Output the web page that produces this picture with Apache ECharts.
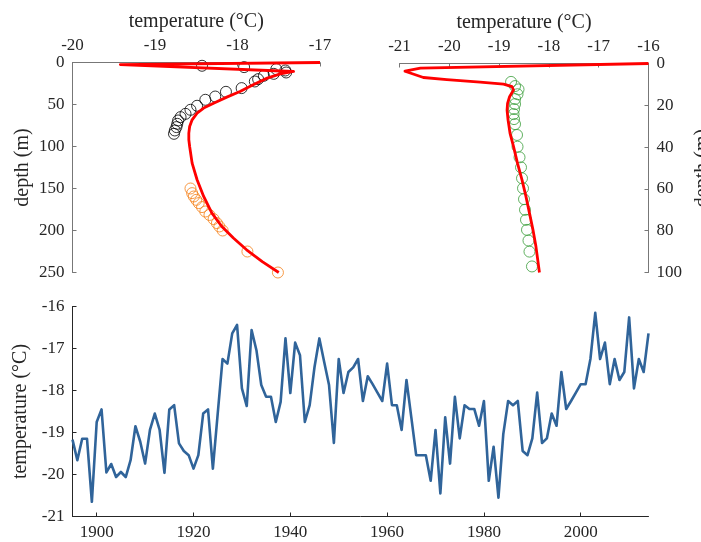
<!DOCTYPE html>
<html>
<head>
<meta charset="utf-8">
<script src="https://cdn.jsdelivr.net/npm/echarts@6/dist/echarts.min.js"></script>
<style>
  html, body { margin: 0; padding: 0; background: #fff; }
  #chart { width: 701px; height: 542px; }
</style>
</head>
<body>
<div id="chart"></div>
<script>
// ---- Borehole 1: modelled profile and measurements (temperature °C, depth m) ----
const deepModelTemp  = [-17.0, -19.42, -17.32, -17.48, -17.64, -17.81, -17.97, -18.13, -18.29, -18.41, -18.49, -18.55, -18.58, -18.59, -18.59, -18.58, -18.55, -18.49, -18.41, -18.31, -18.19, -18.05, -17.89, -17.70, -17.50];
const deepModelDepth = [0, 2.5, 10.7, 13.5, 18.6, 26.5, 34.5, 41.2, 48.4, 54.3, 60.3, 68.2, 76.2, 84, 92, 100, 119.8, 139.6, 159.5, 179.3, 195.2, 209, 223, 237, 250];

const shallowObsTemp  = [-18.43, -17.92, -17.53, -17.42, -17.41, -17.56, -17.68, -17.75, -17.79, -17.95, -18.14, -18.27, -18.39, -18.49, -18.57, -18.63, -18.69, -18.72, -18.73, -18.74, -18.76, -18.77];
const shallowObsDepth = [3.9, 5.5, 7.9, 9.5, 11.9, 13.5, 15.8, 19.8, 22.6, 30.5, 34.9, 40.5, 44.4, 51.5, 56.3, 61.1, 65, 69, 73, 76.9, 80.9, 84.9];

const deepObsTemp  = [-18.57, -18.55, -18.53, -18.50, -18.47, -18.43, -18.39, -18.34, -18.29, -18.25, -18.22, -18.18, -17.88, -17.51];
const deepObsDepth = [150, 155.5, 159.5, 163.5, 167.4, 172.1, 177.4, 181.5, 186.4, 191.2, 195.2, 200, 225, 250];

// ---- Borehole 2 ----
const bh2ModelTemp  = [-16.0, -20.58, -20.89, -20.52, -20.05, -19.38, -18.91, -18.74, -18.71, -18.79, -18.83, -18.84, -18.82, -18.78, -18.71, -18.63, -18.54, -18.46, -18.39, -18.32, -18.26, -18.19];
const bh2ModelDepth = [0, 2.2, 3.7, 6.7, 7.7, 8.9, 9.9, 11.1, 12.7, 15.9, 19.1, 22.3, 27.1, 33.4, 39.8, 47.8, 55.7, 63.7, 71.6, 79.6, 87.6, 100];

const bh2ObsTemp  = [-18.76, -18.68, -18.61, -18.63, -18.68, -18.68, -18.70, -18.71, -18.70, -18.68, -18.64, -18.63, -18.59, -18.56, -18.54, -18.52, -18.50, -18.48, -18.46, -18.44, -18.41, -18.39, -18.34];
const bh2ObsDepth = [8.8, 10.8, 12.4, 14.7, 17, 19.4, 21.8, 24.2, 26.6, 29, 34.2, 39.8, 44.9, 49.7, 54.9, 59.7, 64.9, 70, 74.8, 79.6, 84.7, 90, 97.1];

// ---- Annual mean surface air temperature ----
const years = [1895, 1896, 1897, 1898, 1899, 1900, 1901, 1902, 1903, 1904, 1905, 1906, 1907, 1908, 1909,
  1910, 1911, 1912, 1913, 1914, 1915, 1916, 1917, 1918, 1919, 1920, 1921, 1922, 1923, 1924, 1925, 1926,
  1927, 1928, 1929, 1930, 1931, 1932, 1933, 1934, 1935, 1936, 1937, 1938, 1939, 1940, 1941, 1942, 1943,
  1944, 1945, 1946, 1947, 1948, 1949, 1950, 1951, 1952, 1953, 1954, 1955, 1956, 1957, 1958, 1959, 1960,
  1961, 1962, 1963, 1964, 1965, 1966, 1967, 1968, 1969, 1970, 1971, 1972, 1973, 1974, 1975, 1976, 1977,
  1978, 1979, 1980, 1981, 1982, 1983, 1984, 1985, 1986, 1987, 1988, 1989, 1990, 1991, 1992, 1993, 1994,
  1995, 1996, 1997, 1998, 1999, 2000, 2001, 2002, 2003, 2004, 2005, 2006, 2007, 2008, 2009, 2010, 2011,
  2012, 2013, 2014];
const airTemp = [-19.17, -19.66, -19.15, -19.15, -20.65, -18.75, -18.45, -19.95, -19.75, -20.06, -19.94, -20.06, -19.66, -18.85, -19.22,
  -19.74, -18.94, -18.55, -18.94, -19.96, -18.45, -18.35, -19.26, -19.44, -19.54, -19.86, -19.54, -18.55, -18.45, -19.86, -18.55, -17.25,
  -17.36, -16.64, -16.44, -17.95, -18.37, -16.56, -17.04, -17.87, -18.15, -18.15, -18.75, -18.27, -16.76, -18.06, -16.86, -17.16, -18.75,
  -18.35, -17.44, -16.76, -17.32, -17.87, -19.25, -17.25, -18.06, -17.56, -17.45, -17.25, -18.25, -17.66, -17.85, -18.05, -18.25, -17.36,
  -18.35, -18.35, -18.94, -17.75, -18.64, -19.54, -19.54, -19.54, -20.15, -18.94, -20.45, -18.64, -19.74, -18.15, -19.14, -18.35, -18.44,
  -18.44, -18.84, -18.25, -20.15, -19.34, -20.55, -19.04, -18.25, -18.35, -18.25, -19.44, -19.54, -19.14, -18.05, -19.25, -19.14, -18.55,
  -18.84, -17.56, -18.44, -18.25, -18.05, -17.85, -17.85, -17.25, -16.15, -17.25, -16.86, -17.85, -17.25, -17.75, -17.56, -16.26, -17.95,
  -17.25, -17.56, -16.64];

const yearTicks = [1900, 1920, 1940, 1960, 1980, 2000];

const zip = (a, b) => a.map((v, i) => [v, b[i]]);

const FONT = '"Liberation Serif", "Times New Roman", serif';
const INK = '#262626';
const GREYAX = '#777777';

function axisStyle(lineColor) {
  return {
    axisLine: { show: true, onZero: false, lineStyle: { color: lineColor, width: 1 } },
    axisTick: { show: true, inside: true, length: 4, lineStyle: { color: lineColor } },
    axisLabel: { color: INK, fontFamily: FONT, fontSize: 17, margin: 8, formatter: v => String(v) },
    splitLine: { show: false },
    nameTextStyle: { color: INK, fontFamily: FONT, fontSize: 20 }
  };
}

const chart = echarts.init(document.getElementById('chart'), null, { renderer: 'canvas' });

const option = {
  animation: false,
  backgroundColor: '#ffffff',
  grid: [
    { left: 72.5, top: 62.5, width: 247.5, height: 210, containLabel: false, outerBoundsMode: 'none' },
    { left: 399.5, top: 63.5, width: 249, height: 209, containLabel: false, outerBoundsMode: 'none' },
    { left: 72.5, top: 306.5, width: 576, height: 210, containLabel: false, outerBoundsMode: 'none' }
  ],
  xAxis: [
    Object.assign(axisStyle(GREYAX), {
      gridIndex: 0, type: 'value', position: 'top', min: -20, max: -17, interval: 1,
      name: 'temperature (°C)', nameLocation: 'middle', nameGap: 31
    }),
    Object.assign(axisStyle(GREYAX), {
      gridIndex: 1, type: 'value', position: 'top', min: -21, max: -16, interval: 1,
      name: 'temperature (°C)', nameLocation: 'middle', nameGap: 31
    }),
    (() => {
      const s = axisStyle(INK);
      s.axisTick.customValues = yearTicks;
      s.axisLabel.customValues = yearTicks;
      return Object.assign(s, { gridIndex: 2, type: 'value', position: 'bottom', min: 1895, max: 2014 });
    })()
  ],
  yAxis: [
    Object.assign(axisStyle(GREYAX), {
      gridIndex: 0, type: 'value', position: 'left', inverse: true, min: 0, max: 250, interval: 50,
      name: 'depth (m)', nameLocation: 'middle', nameRotate: 90, nameGap: 40
    }),
    Object.assign(axisStyle(GREYAX), {
      gridIndex: 1, type: 'value', position: 'right', inverse: true, min: 0, max: 100, interval: 20,
      name: 'depth (m)', nameLocation: 'middle', nameRotate: 90, nameGap: 44
    }),
    Object.assign(axisStyle(INK), {
      gridIndex: 2, type: 'value', position: 'left', min: -21, max: -16, interval: 1,
      name: 'temperature (°C)', nameLocation: 'middle', nameRotate: 90, nameGap: 33
    })
  ],
  series: [
    {
      type: 'scatter', xAxisIndex: 0, yAxisIndex: 0, data: zip(shallowObsTemp, shallowObsDepth),
      symbol: 'circle', symbolSize: 11,
      itemStyle: { color: 'rgba(0,0,0,0)', borderColor: '#000000', borderWidth: 1 }
    },
    {
      type: 'scatter', xAxisIndex: 0, yAxisIndex: 0, data: zip(deepObsTemp, deepObsDepth),
      symbol: 'circle', symbolSize: 11,
      itemStyle: { color: 'rgba(0,0,0,0)', borderColor: '#f57f17', borderWidth: 1 }
    },
    {
      type: 'line', xAxisIndex: 0, yAxisIndex: 0, data: zip(deepModelTemp, deepModelDepth),
      showSymbol: false, smooth: false, clip: false,
      lineStyle: { color: '#ff0000', width: 2.8, join: 'round' }
    },
    {
      type: 'scatter', xAxisIndex: 1, yAxisIndex: 1, data: zip(bh2ObsTemp, bh2ObsDepth),
      symbol: 'circle', symbolSize: 11,
      itemStyle: { color: 'rgba(0,0,0,0)', borderColor: '#3a9d3a', borderWidth: 1 }
    },
    {
      type: 'line', xAxisIndex: 1, yAxisIndex: 1, data: zip(bh2ModelTemp, bh2ModelDepth),
      showSymbol: false, smooth: false, clip: false,
      lineStyle: { color: '#ff0000', width: 2.8, join: 'round' }
    },
    {
      type: 'line', xAxisIndex: 2, yAxisIndex: 2, data: zip(years, airTemp),
      showSymbol: false, smooth: false,
      lineStyle: { color: '#30649a', width: 2.6, join: 'round' }
    }
  ]
};

chart.setOption(option);
</script>
</body>
</html>
